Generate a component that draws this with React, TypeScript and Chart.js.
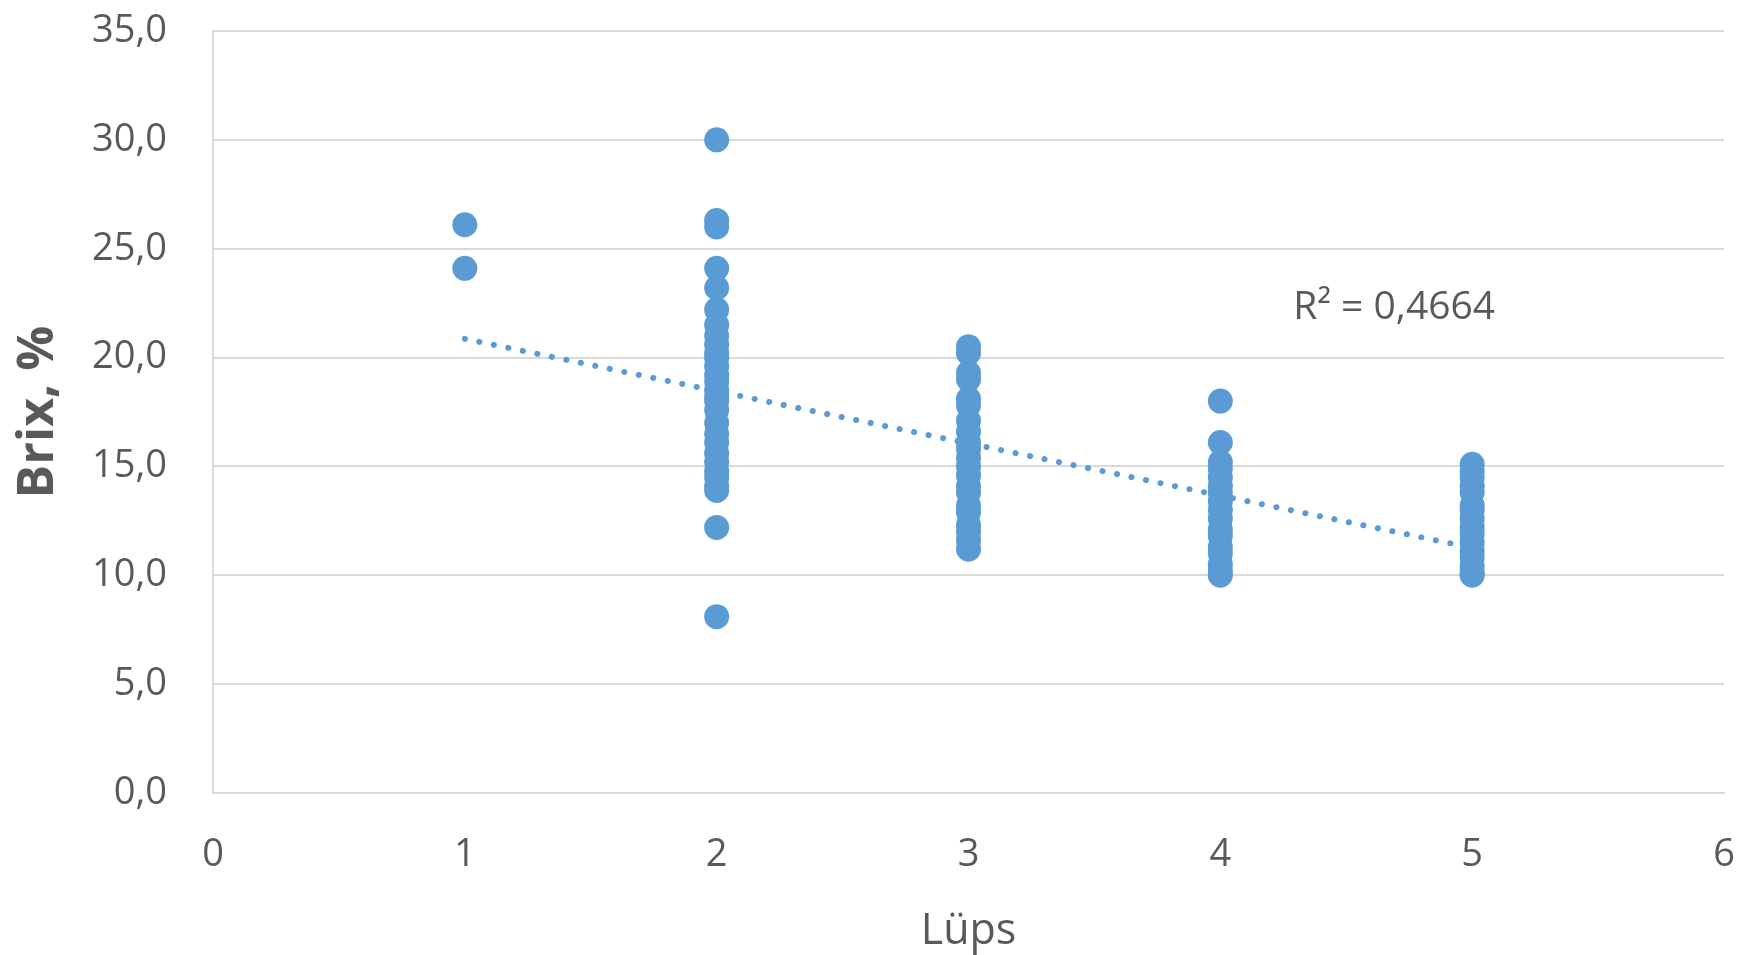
import React, { useEffect, useRef } from "react";
import { Chart, registerables } from "chart.js";

Chart.register(...registerables);

// Lüps (x) groups and Brix, % values
const group1Brix = [26.1, 24.1];
const group2Brix = [30.0, 26.3, 26.0, 24.1, 23.2, 22.2, 21.5, 21.0, 20.6, 20.2, 20.0, 19.6, 19.2, 18.9, 18.5, 18.2, 18.0, 17.6, 17.0, 16.5, 16.1, 15.6, 15.2, 14.8, 14.5, 14.1, 13.9, 12.2, 8.1];
const group3Brix = [20.5, 20.2, 19.3, 19.0, 18.1, 17.8, 17.1, 16.6, 16.1, 15.8, 15.4, 15.0, 14.6, 14.1, 13.8, 13.2, 12.9, 12.3, 12.0, 11.6, 11.2];
const group4Brix = [18.0, 16.1, 15.2, 14.9, 14.5, 14.1, 13.8, 13.4, 13.0, 12.6, 12.1, 11.8, 11.3, 11.0, 10.5, 10.2, 10.0];
const group5Brix = [15.1, 14.8, 14.5, 14.1, 13.8, 13.2, 13.0, 12.6, 12.2, 11.9, 11.5, 11.1, 10.8, 10.4, 10.1, 10.0];
const groupX = [1, 2, 3, 4, 5];

// Linear trendline end points
const trendX = [1, 5];
const trendY = [20.86, 11.26];

// R² label
const r2Text = "R² = 0,4664";
const r2Pos = [4.29, 22.28];

const xTicks = [0, 1, 2, 3, 4, 5, 6];
const yTicks = [0, 5, 10, 15, 20, 25, 30, 35];

const TEXT = "#595959";
const GRID = "#D9D9D9";
const BLUE = "#5B9BD5";
const FONT = "'Open Sans', 'Liberation Sans', sans-serif";

export default function App() {
  const ref = useRef<HTMLCanvasElement | null>(null);

  useEffect(() => {
    if (!ref.current) return;
    const groups = [group1Brix, group2Brix, group3Brix, group4Brix, group5Brix];
    const points: { x: number; y: number }[] = [];
    groups.forEach((g, i) => g.forEach((v) => points.push({ x: groupX[i], y: v })));
    const trend = trendX.map((x, i) => ({ x, y: trendY[i] }));

    const r2Plugin = {
      id: "r2label",
      afterDatasetsDraw(chart: any) {
        const { ctx, scales } = chart;
        const px = scales.x.getPixelForValue(r2Pos[0]);
        const py = scales.y.getPixelForValue(r2Pos[1]);
        ctx.save();
        ctx.font = `39px ${FONT}`;
        ctx.fillStyle = TEXT;
        ctx.textAlign = "left";
        ctx.textBaseline = "middle";
        ctx.fillText(r2Text, px, py);
        ctx.restore();
      },
    };

    const chart = new Chart(ref.current, {
      type: "scatter",
      data: {
        datasets: [
          {
            type: "scatter",
            data: points,
            backgroundColor: BLUE,
            borderWidth: 0,
            pointRadius: 12.5,
            pointHoverRadius: 12.5,
            order: 1,
          },
          {
            type: "line",
            data: trend,
            borderColor: BLUE,
            borderWidth: 6,
            borderDash: [0.1, 14.7],
            borderCapStyle: "round",
            pointRadius: 0,
            fill: false,
            order: 2,
          } as any,
        ],
      },
      options: {
        animation: false,
        responsive: false,
        maintainAspectRatio: false,
        layout: { padding: { left: 0, right: 18, top: 31, bottom: 0 } },
        plugins: { legend: { display: false }, tooltip: { enabled: false } },
        scales: {
          x: {
            type: "linear",
            min: 0,
            max: 6,
            afterBuildTicks: (s: any) => {
              s.ticks = xTicks.map((v) => ({ value: v }));
            },
            afterFit: (s: any) => {
              s.height = 162;
              s.paddingLeft = 0;
              s.paddingRight = 0;
            },
            grid: { display: false, drawTicks: false },
            border: { display: true, color: GRID, width: 2 },
            ticks: {
              color: TEXT,
              font: { family: FONT, size: 38 },
              padding: 39,
              maxRotation: 0,
              callback: (v: any) => String(v),
            },
            title: {
              display: true,
              text: "Lüps",
              color: TEXT,
              font: { family: FONT, size: 43 },
              padding: { top: 0, bottom: -3 },
            },
          },
          y: {
            type: "linear",
            min: 0,
            max: 35,
            afterBuildTicks: (s: any) => {
              s.ticks = yTicks.map((v) => ({ value: v }));
            },
            afterFit: (s: any) => {
              s.width = 213;
              s.paddingTop = 0;
              s.paddingBottom = 0;
            },
            grid: { display: true, color: GRID, lineWidth: 2, drawTicks: false },
            border: { display: true, color: GRID, width: 2 },
            ticks: {
              color: TEXT,
              font: { family: FONT, size: 38 },
              padding: 46,
              callback: (v: any) => Number(v).toFixed(1).replace(".", ","),
            },
            title: {
              display: true,
              text: "Brix, %",
              color: TEXT,
              font: { family: FONT, size: 50, weight: "bold" },
              padding: { top: 9, bottom: 0 },
            },
          },
        },
      },
      plugins: [r2Plugin],
    });
    return () => chart.destroy();
  }, []);

  return (
    <div style={{ position: "fixed", left: 0, top: 0, width: 1742, height: 955, background: "#fff" }}>
      <canvas ref={ref} width={1742} height={955} style={{ display: "block", width: 1742, height: 955 }} />
    </div>
  );
}
